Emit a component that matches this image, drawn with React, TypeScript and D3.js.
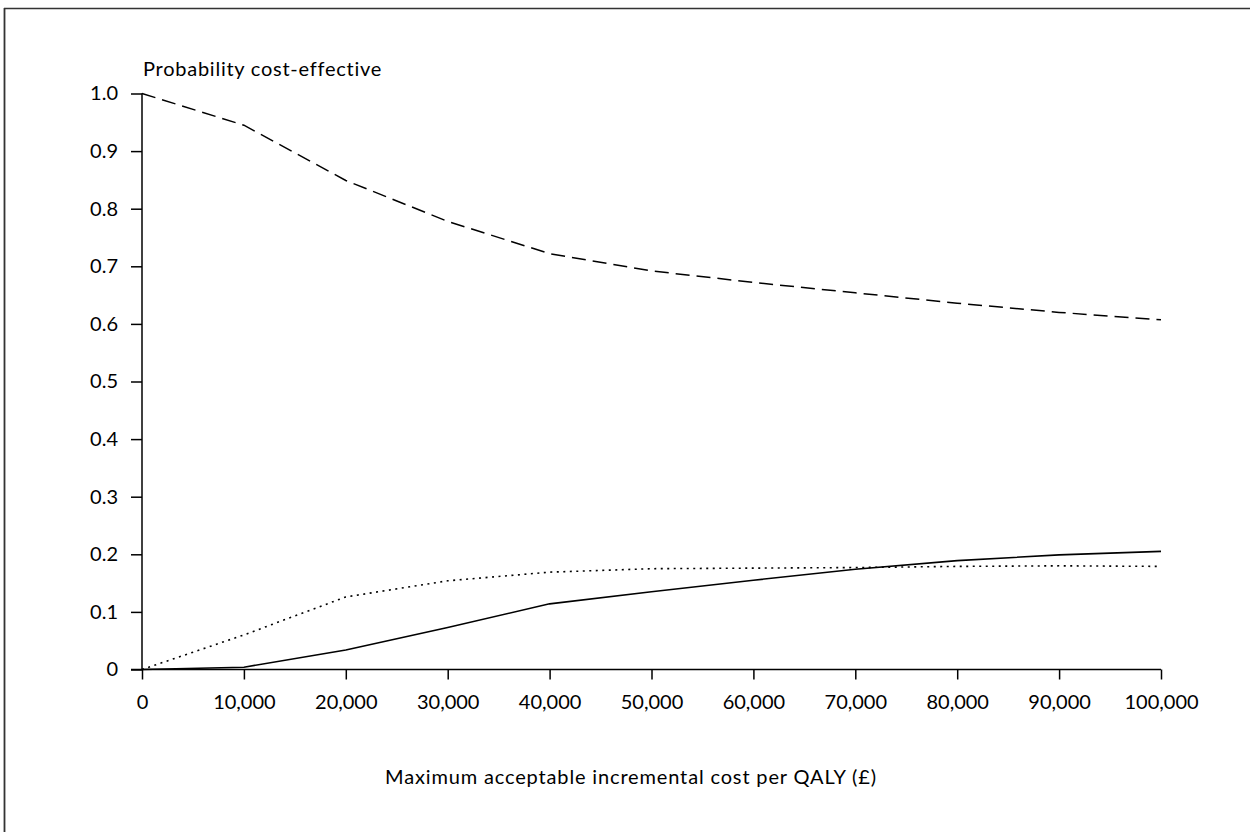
import React, { useEffect, useRef } from "react";
import * as d3 from "d3";

const thresholds = [0, 10000, 20000, 30000, 40000, 50000, 60000, 70000, 80000, 90000, 100000];
const dashedSeries = [1.0, 0.945, 0.849, 0.778, 0.722, 0.692, 0.672, 0.654, 0.636, 0.62, 0.607];
const dottedSeries = [0.0, 0.06, 0.126, 0.154, 0.169, 0.175, 0.176, 0.177, 0.179, 0.18, 0.179];
const solidSeries = [0.0, 0.004, 0.034, 0.073, 0.114, 0.135, 0.155, 0.174, 0.189, 0.199, 0.205];
const xTicks = [0, 10000, 20000, 30000, 40000, 50000, 60000, 70000, 80000, 90000, 100000];
const yTicks = [0, 0.1, 0.2, 0.3, 0.4, 0.5, 0.6, 0.7, 0.8, 0.9, 1.0];
const yTitle = "Probability cost-effective";
const xTitle = "Maximum acceptable incremental cost per QALY (£)";

const W = 1250;
const H = 832;
const FONT = "Lato, 'Open Sans', sans-serif";
const FS = 20;

export default function App() {
  const ref = useRef<SVGSVGElement | null>(null);

  useEffect(() => {
    const svg = d3.select(ref.current);
    svg.selectAll("*").remove();

    const x = d3.scaleLinear().domain([0, 100000]).range([142, 1161]);
    const y = d3.scaleLinear().domain([0, 1]).range([669.5, 93.5]);

    // frame (left & top)
    svg.append("line").attr("x1", 4.5).attr("x2", 4.5).attr("y1", 8).attr("y2", H)
      .attr("stroke", "#333").attr("stroke-width", 1.8);
    svg.append("line").attr("x1", 4).attr("x2", W).attr("y1", 8.5).attr("y2", 8.5)
      .attr("stroke", "#333").attr("stroke-width", 1.6);

    const g = svg.append("g");

    // y axis
    const yAxis = d3.axisLeft(y).tickValues(yTicks).tickSize(11).tickPadding(13)
      .tickFormat((d: any) => (d === 0 ? "0" : d3.format(".1f")(d)));
    const ya = g.append("g").attr("transform", `translate(${x(0)},0)`).call(yAxis);
    ya.select(".domain").attr("stroke", "#000").attr("stroke-width", 1.5)
      .attr("d", `M0,${y(0)}V${y(1)}`);
    ya.selectAll(".tick line").attr("stroke", "#000").attr("stroke-width", 1.5);
    ya.selectAll(".tick text").attr("font-family", FONT).attr("font-size", FS).attr("fill", "#000");

    // x axis
    const xAxis = d3.axisBottom(x).tickValues(xTicks).tickSize(10).tickPadding(15)
      .tickFormat((d: any) => d3.format(",")(d));
    const xa = g.append("g").attr("transform", `translate(0,${y(0)})`).call(xAxis);
    xa.select(".domain").attr("stroke", "#000").attr("stroke-width", 1.5)
      .attr("d", `M${x(0) - 11},0H${x(100000)}`);
    xa.selectAll(".tick line").attr("stroke", "#000").attr("stroke-width", 1.5);
    xa.selectAll(".tick text").attr("font-family", FONT).attr("font-size", FS).attr("fill", "#000");

    // titles
    g.append("text").attr("x", 143).attr("y", 76).attr("font-family", FONT).attr("font-size", FS)
      .attr("letter-spacing", 0.75).attr("fill", "#000").text(yTitle);
    g.append("text").attr("x", 631).attr("y", 784).attr("text-anchor", "middle")
      .attr("font-family", FONT).attr("font-size", FS).attr("letter-spacing", 0.85)
      .attr("fill", "#000").text(xTitle);

    const line = d3.line<number>().x((_, i) => x(thresholds[i])).y((d) => y(d));

    g.append("path").datum(dashedSeries).attr("d", line as any).attr("fill", "none")
      .attr("stroke", "#000").attr("stroke-width", 1.5).attr("stroke-dasharray", "14,7");
    g.append("path").datum(dottedSeries).attr("d", line as any).attr("fill", "none")
      .attr("stroke", "#000").attr("stroke-width", 1.6).attr("stroke-dasharray", "2,4.5");
    g.append("path").datum(solidSeries).attr("d", line as any).attr("fill", "none")
      .attr("stroke", "#000").attr("stroke-width", 1.6);
  }, []);

  return (
    <svg
      ref={ref}
      width={W}
      height={H}
      style={{ position: "absolute", left: 0, top: 0, background: "#fff" }}
    />
  );
}
